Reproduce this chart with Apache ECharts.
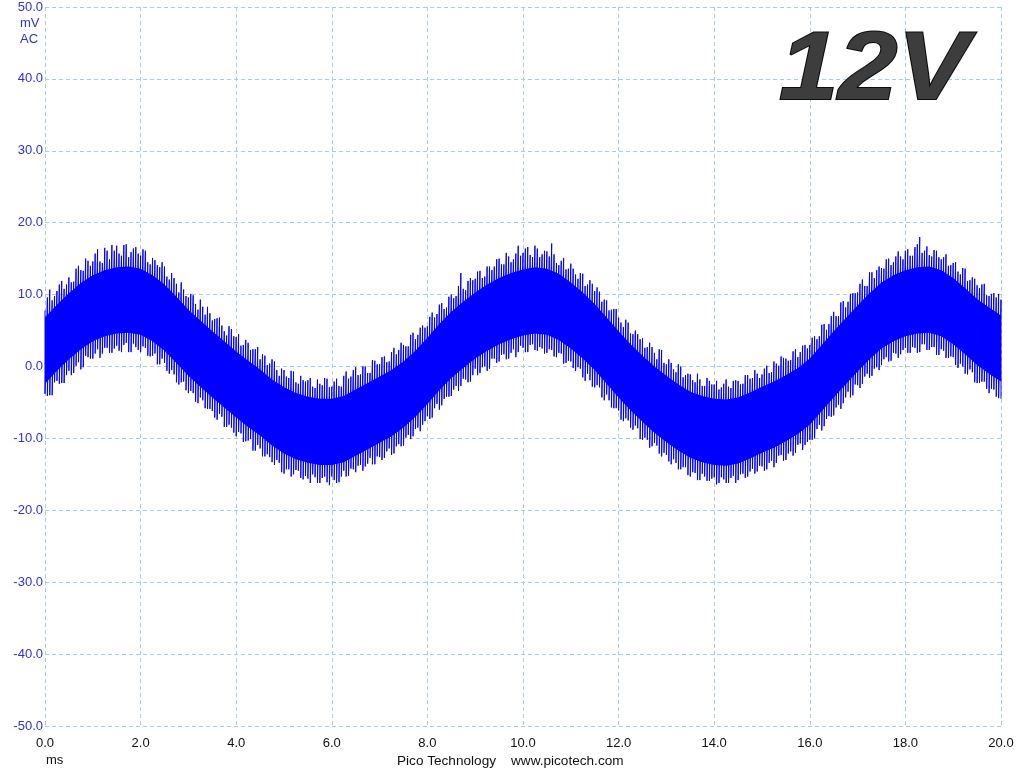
<!DOCTYPE html>
<html>
<head>
<meta charset="utf-8">
<script src="https://cdn.jsdelivr.net/npm/echarts@6/dist/echarts.min.js"></script>
<style>
html,body{margin:0;padding:0;background:#fff;}
#chart{width:1024px;height:768px;}
</style>
</head>
<body>
<div id="chart"></div>
<script>
// ---- data ----
const SAMPLE_MS = 0.1;           // spacing of the peak samples (ms), starting at 0.0
const MID_OFFSET_MS = 0.05;      // the MID_* samples sit half-way between them
// upper spike tips at t = 0.0, 0.1, ... 20.0 (mV)
const PEAK_HI = [
 7.8,10.7,9.8,11.4,10.8, 12.4,11.8,14.0,13.3,14.7, 14.6,16.3,14.4,16.1,16.9, 16.8,15.4,17.0,15.9,16.6,
 15.4,16.1,14.2,14.8,13.8, 13.9,12.1,12.3,10.3,10.7, 9.6,9.9,7.9,8.3,8.3, 6.4,6.7,5.7,4.3,5.2,
 4.1,2.9,3.7,2.3,2.4, 1.0,1.5,0.4,0.7,-1.3, -0.5,-1.6,-0.7,-2.4,-1.9, -1.9,-2.8,-1.8,-2.6,-1.7,
 -2.8,-1.7,-2.8,-0.7,-1.4, -0.1,-1.1,0.0,-0.9,0.8, 0.3,1.4,0.7,2.6,2.3, 3.0,2.8,4.7,4.4,5.7,
 5.6,7.5,7.3,8.8,8.2, 10.0,9.8,13.0,10.6,12.3, 12.2,13.3,12.5,13.9,13.9, 15.0,14.2,15.3,14.9,16.8,
 15.8,16.6,15.2,16.4,15.6, 16.0,17.1,14.4,14.7,13.5, 14.3,12.8,13.0,11.2,12.0, 10.5,10.4,9.3,7.8,8.0,
 6.8,5.5,6.1,4.5,4.5, 3.9,2.7,2.7,1.0,2.3, 0.3,0.5,-0.8,0.0,-1.2, -1.1,-2.2,-1.8,-2.7,-2.0,
 -2.5,-3.2,-2.4,-2.8,-2.0, -2.0,-2.4,-1.2,-1.6,-1.0, -1.1,0.1,-0.8,0.4,1.4, 1.1,0.9,2.4,2.0,3.0,
 3.0,4.2,4.2,5.9,5.9, 7.6,7.0,9.1,9.0,10.2, 10.3,12.1,11.2,13.1,13.4, 13.7,14.9,14.1,15.3,15.3,
 16.1,15.4,16.6,18.0,16.1, 15.5,16.2,15.2,15.2,14.0, 14.4,13.2,13.7,11.9,12.4, 11.3,11.4,9.9,10.1,9.6,
 9.3
];
// lower spike tips at t = 0.0, 0.1, ... 20.0 (mV)
const PEAK_LO = [
 -3.8,-4.0,-2.2,-2.4,-2.3, -0.6,-0.9,0.6,-0.1,1.3, 1.1,2.4,1.8,2.6,1.9, 2.9,2.0,3.3,2.0,2.7,
 2.0,2.6,1.4,1.8,0.3, 0.5,-1.0,-1.1,-2.5,-2.1, -3.7,-3.7,-5.1,-4.7,-5.9, -6.2,-7.4,-7.0,-8.4,-8.5,
 -9.7,-9.3,-10.4,-10.1,-11.7, -11.4,-12.5,-12.6,-13.7,-13.4, -14.9,-14.3,-15.0,-14.5,-15.7, -15.6,-15.0,-16.2,-15.5,-16.1,
 -15.3,-16.2,-15.3,-15.3,-14.2, -14.7,-13.7,-13.9,-12.7,-13.6, -12.6,-12.7,-11.4,-12.1,-10.8, -11.0,-9.5,-9.7,-8.5,-8.1,
 -6.9,-7.1,-5.2,-5.4,-4.2, -4.1,-2.7,-2.7,-1.8,-2.1, -0.3,-0.9,0.0,-0.3,1.1, 0.7,1.7,1.1,2.4,2.0,
 2.6,2.0,3.1,2.2,2.5, 1.9,2.3,1.3,1.8,0.5, 0.7,-0.6,-0.3,-2.0,-1.9, -2.9,-2.9,-4.7,-4.7,-5.8,
 -6.1,-7.6,-7.5,-8.8,-8.6, -10.2,-10.2,-11.1,-11.0,-12.5, -12.3,-13.6,-13.4,-14.3,-14.0, -15.3,-14.8,-15.8,-15.3,-15.9,
 -15.4,-16.2,-15.7,-16.2,-15.2, -15.8,-14.9,-15.3,-14.2,-14.6, -13.9,-14.3,-13.1,-13.4,-12.3, -13.0,-11.8,-12.0,-10.7,-10.9,
 -10.2,-10.0,-8.1,-8.3,-6.9, -6.8,-5.3,-5.1,-3.5,-4.0, -2.6,-2.4,-1.0,-1.3,-0.1, 0.2,1.3,0.8,1.8,1.7,
 2.6,1.9,2.6,2.0,3.1, 2.3,2.7,1.6,2.2,1.2, 1.3,-0.2,0.0,-1.1,-0.8, -2.3,-2.1,-3.1,-3.1,-4.2,
 -4.5
];
// upper spike tips at t = 0.05, 0.15, ... 19.95 (mV)
const MID_HI = [
 9.6,9.2,10.5,11.9,11.4, 11.7,13.6,13.4,15.0,14.0, 15.7,14.6,16.5,14.9,16.1, 15.7,16.9,15.2,16.4,15.7,
 16.3,14.5,15.1,14.1,14.5, 12.5,13.0,11.5,11.7,9.8, 10.1,8.7,9.3,7.2,7.4, 6.6,6.8,4.9,5.6,4.2,
 4.5,3.0,3.3,2.4,2.7, 1.7,0.2,1.0,-0.5,-0.3, -1.4,-0.6,-2.2,-1.3,-2.1, -1.6,-3.0,-2.4,-1.6,-2.9,
 -2.1,-2.7,-1.3,-1.7,-0.5, -1.2,0.0,-0.9,0.9,0.3, 1.3,0.6,2.0,1.7,3.3, 2.8,4.4,3.8,5.4,5.4,
 6.9,6.8,8.6,8.0,9.7, 9.5,11.2,10.8,11.9,12.0, 13.2,12.3,13.9,13.4,14.9, 14.2,15.8,14.5,15.7,15.4,
 16.4,15.5,16.8,15.2,16.1, 15.3,15.6,14.1,15.1,13.6, 13.6,12.2,12.9,11.4,11.5, 11.0,9.0,9.2,7.9,8.0,
 6.1,6.5,4.6,5.0,3.8, 2.6,3.3,1.9,2.4,0.5, 1.0,-0.4,0.3,-1.5,-1.0, -1.9,-1.0,-2.7,-1.6,-2.5,
 -2.0,-2.9,-1.8,-3.0,-1.9, -2.5,-1.2,-1.7,-0.5,-1.6, -0.3,-0.9,0.7,0.1,1.2, 0.8,2.1,1.3,2.9,2.5,
 4.0,3.8,5.8,5.1,7.0, 7.0,8.9,8.2,10.1,10.2, 11.5,11.2,13.1,12.3,13.9, 13.6,15.0,14.5,16.0,14.9,
 16.3,15.4,17.0,15.8,16.7, 15.3,16.1,14.9,15.6,14.1, 14.5,12.8,13.6,12.0,12.2, 10.9,11.5,9.8,10.2,10.1
];
// lower spike tips at t = 0.05, 0.15, ... 19.95 (mV)
const MID_LO = [
 -4.1,-4.0,-2.0,-2.3,-1.2, -1.2,0.1,-0.4,1.5,1.1, 1.8,1.2,2.6,1.9,2.5, 2.2,3.0,2.0,3.2,2.3,
 2.8,1.5,1.5,0.3,1.1, -0.6,-0.5,-2.2,-2.2,-3.3, -3.4,-4.9,-4.3,-5.8,-5.9, -7.1,-6.6,-8.4,-8.1,-9.2,
 -9.1,-10.5,-10.3,-11.7,-10.9, -12.5,-12.2,-13.3,-13.0,-14.7, -14.3,-15.3,-14.4,-15.5,-15.2, -16.2,-15.4,-16.2,-15.3,-16.5,
 -15.8,-16.1,-14.5,-15.2,-14.3, -13.8,-14.5,-13.5,-13.6,-12.5, -13.0,-11.8,-12.3,-11.1,-11.1, -9.9,-10.1,-8.7,-9.0,-7.6,
 -7.3,-5.8,-6.0,-4.5,-4.2, -3.2,-3.4,-1.7,-2.2,-1.2, -1.2,-0.1,-0.6,1.1,0.5, 1.6,1.0,1.9,1.3,2.9,
 2.0,3.0,2.3,2.7,1.8, 2.4,1.4,1.9,0.4,0.8, -0.2,-0.1,-1.5,-1.0,-2.8, -2.6,-4.3,-3.9,-5.7,-5.8,
 -7.4,-7.2,-8.5,-8.2,-10.1, -9.9,-11.3,-10.6,-12.1,-12.0, -13.2,-12.9,-14.3,-14.0,-15.1, -14.7,-15.8,-14.9,-15.9,-15.6,
 -16.4,-15.4,-16.2,-15.5,-16.2, -15.0,-15.5,-14.6,-14.9,-13.8, -14.5,-13.4,-14.0,-12.4,-13.1, -12.1,-12.4,-10.9,-11.6,-10.5,
 -10.2,-8.7,-8.9,-7.3,-7.0, -5.7,-5.9,-4.3,-4.3,-2.5, -3.0,-1.4,-1.6,-0.3,-0.5, 1.0,0.7,1.9,1.2,2.3,
 1.9,2.7,1.9,3.1,2.3, 2.7,1.6,2.4,1.2,1.4, 0.2,0.4,-1.0,-0.4,-2.2, -2.3,-2.1,-3.7,-3.2,-4.4
];
const CORE_STEP_MS = 0.25;       // spacing of the solid-band edges (ms)
const CORE_HI = [6.8,8.6,10.2,11.6,12.7,13.4,13.8,13.9,13.6,12.7,11.4,9.7,7.9,6.4,4.9,3.5,2.1,0.8,-0.4,-1.8,
 -2.9,-3.7,-4.2,-4.5,-4.5,-4.1,-3.2,-2.3,-1.4,-0.5,0.7,2.2,4.0,5.9,7.6,9.0,10.3,11.4,12.3,13.0,
 13.5,13.8,13.6,12.9,11.7,10.3,8.7,6.8,4.9,3.1,1.5,0.0,-1.3,-2.5,-3.5,-4.1,-4.5,-4.6,-4.3,-3.6,
 -2.8,-2.1,-1.2,-0.2,1.1,3.0,4.9,6.7,8.5,10.2,11.7,12.7,13.4,13.8,13.9,13.4,12.3,10.9,9.4,8.2,7.1];
const CORE_LO = [-2.4,-0.6,1.0,2.4,3.5,4.2,4.6,4.7,4.4,3.5,2.2,0.5,-1.3,-2.8,-4.3,-5.7,-7.1,-8.4,-9.6,-11.0,
 -12.1,-12.9,-13.4,-13.7,-13.7,-13.3,-12.4,-11.5,-10.6,-9.7,-8.5,-7.0,-5.2,-3.3,-1.6,-0.2,1.1,2.2,3.1,3.8,
 4.3,4.6,4.4,3.7,2.5,1.1,-0.5,-2.4,-4.3,-6.1,-7.7,-9.2,-10.5,-11.7,-12.7,-13.3,-13.7,-13.8,-13.5,-12.8,
 -12.0,-11.3,-10.4,-9.4,-8.1,-6.2,-4.3,-2.5,-0.7,1.0,2.5,3.5,4.2,4.6,4.7,4.2,3.1,1.7,0.2,-1.0,-2.1];

const X_MIN = 0, X_MAX = 20, X_STEP = 2;
const Y_MIN = -50, Y_MAX = 50, Y_STEP = 10;
const TITLE_TEXT = '12V';
const Y_UNIT = ['mV', 'AC'];
const X_UNIT = 'ms';
const FOOTER = ['Pico Technology', 'www.picotech.com'];

// ---- build series data ----
const traceData = [];
for (let i = 0; i < PEAK_HI.length; i++) {
  const t = +(i * SAMPLE_MS).toFixed(4);
  traceData.push([t, PEAK_HI[i]]);
  traceData.push([t, PEAK_LO[i]]);
  if (i < MID_HI.length) {
    const tm = +(t + MID_OFFSET_MS).toFixed(4);
    traceData.push([tm, MID_HI[i]]);
    traceData.push([tm, MID_LO[i]]);
  }
}

const GRID_COLOR = '#a9cde2';
const BLUE_TXT = '#3030d8';
const LBL_FONT = '"Liberation Sans", Arial, sans-serif';

const chart = echarts.init(document.getElementById('chart'), null, {renderer: 'canvas'});
chart.setOption({
  animation: false,
  backgroundColor: '#ffffff',
  grid: {left: 45, right: 23, top: 7, bottom: 42, containLabel: false},
  xAxis: {
    type: 'value', min: X_MIN, max: X_MAX, interval: X_STEP,
    axisLine: {show: false},
    axisTick: {show: false},
    axisLabel: {color: '#111', fontSize: 13, fontFamily: LBL_FONT, margin: 11,
      formatter: v => v.toFixed(1)},
    splitLine: {show: true, lineStyle: {color: GRID_COLOR, type: [4, 3], width: 1}}
  },
  yAxis: {
    type: 'value', min: Y_MIN, max: Y_MAX, interval: Y_STEP,
    axisLine: {show: false},
    axisTick: {show: false},
    axisLabel: {color: BLUE_TXT, fontSize: 13, fontFamily: LBL_FONT, margin: 2,
      formatter: v => v.toFixed(1)},
    splitLine: {show: true, lineStyle: {color: GRID_COLOR, type: [4, 3], width: 1}}
  },
  series: [
    {
      type: 'custom',
      coordinateSystem: 'cartesian2d',
      clip: true,
      data: [[0, 0]],
      renderItem: function (params, api) {
        const pts = [];
        for (let i = 0; i < CORE_HI.length; i++) pts.push(api.coord([i * CORE_STEP_MS, CORE_HI[i]]));
        for (let i = CORE_LO.length - 1; i >= 0; i--) pts.push(api.coord([i * CORE_STEP_MS, CORE_LO[i]]));
        return {type: 'polygon', shape: {points: pts, smooth: 0}, style: {fill: '#0000ff'}};
      },
      z: 3, silent: true
    },
    {
      type: 'line',
      data: traceData,
      showSymbol: false,
      symbol: 'none',
      sampling: null,
      lineStyle: {color: '#0000ff', width: 1},
      z: 4, silent: true
    }
  ],
  graphic: [
    {type: 'text', left: 20, top: 17, style: {text: Y_UNIT[0], fill: BLUE_TXT, font: '13px ' + LBL_FONT}},
    {type: 'text', left: 20, top: 33, style: {text: Y_UNIT[1], fill: BLUE_TXT, font: '13px ' + LBL_FONT}},
    {type: 'text', left: 46, top: 754, style: {text: X_UNIT, fill: '#111', font: '13px ' + LBL_FONT}},
    {type: 'text', left: 397, top: 754, style: {text: FOOTER[0], fill: '#111', font: '13.6px ' + LBL_FONT}},
    {type: 'text', left: 511, top: 754, style: {text: FOOTER[1], fill: '#111', font: '13.6px ' + LBL_FONT}},
    {type: 'text', x: 779, y: 25, scaleX: 1.11, scaleY: 1, z: 10,
      style: {
        text: TITLE_TEXT,
        x: 0, y: 0,
        verticalAlign: 'top', align: 'left',
        font: 'italic bold 96px ' + LBL_FONT,
        fill: '#3d3d3d',
        stroke: '#0d0d0d', lineWidth: 2,
        shadowColor: 'rgba(0,0,0,0.6)', shadowBlur: 3, shadowOffsetX: 3, shadowOffsetY: 2
      }}
  ]
});
</script>
</body>
</html>
